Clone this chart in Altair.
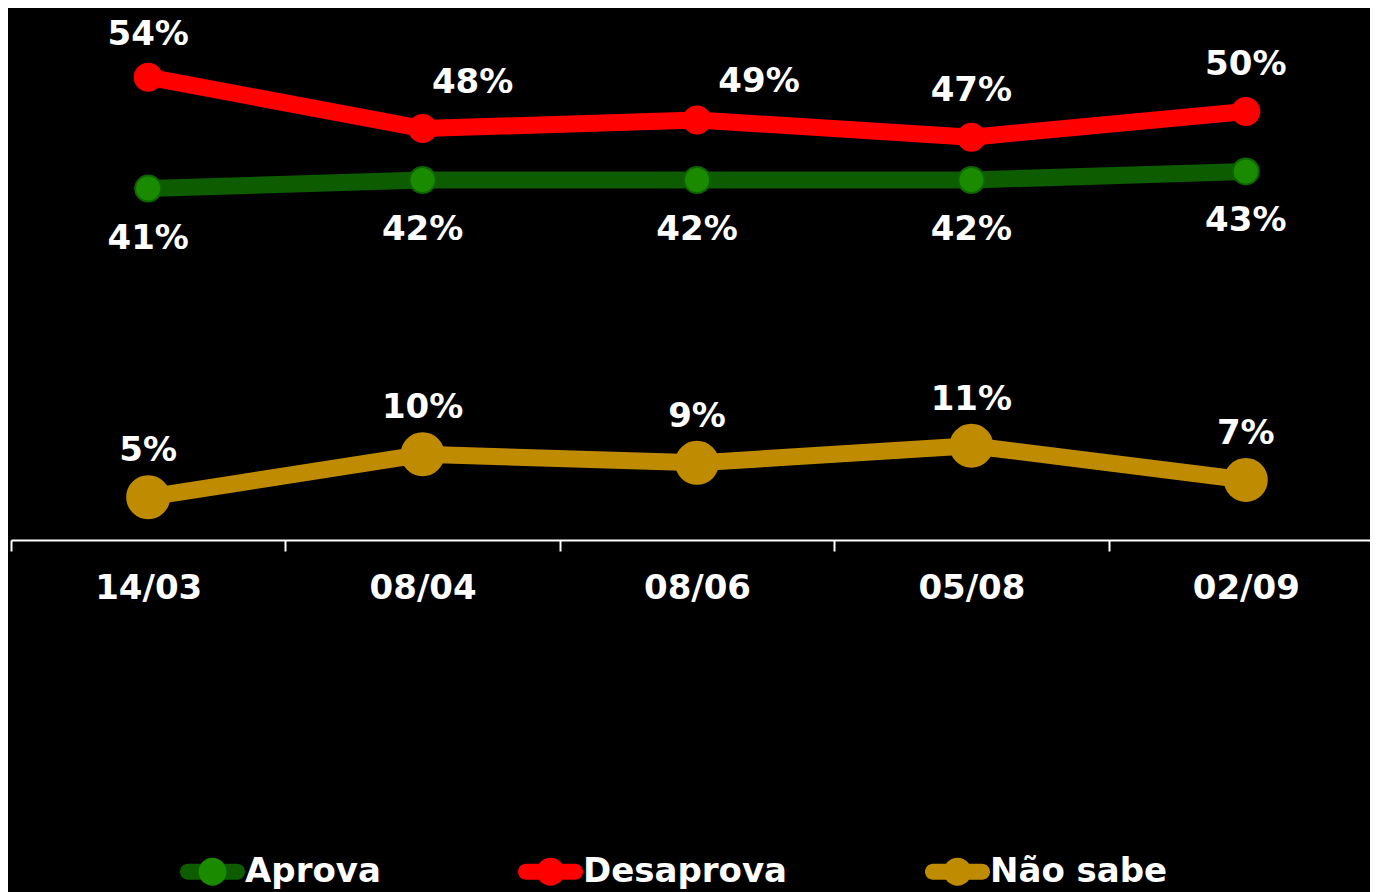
import altair as alt
import pandas as pd

datas = ["14/03", "08/04", "08/06", "05/08", "02/09"]
aprova = [41, 42, 42, 42, 43]
desaprova = [54, 48, 49, 47, 50]
nao_sabe = [5, 10, 9, 11, 7]
series = ["Aprova", "Desaprova", "Não sabe"]
line_colors = ["#0e5c00", "#ff0000", "#bf8b00"]
point_colors = ["#1a8a00", "#ff0000", "#bf8b00"]
point_strokes = ["#0e6400", "#ff0000", "#bf8b00"]
point_sizes = [676, 729, 1764]

rows = []
for s, vals in zip(series, [aprova, desaprova, nao_sabe]):
    for d, v in zip(datas, vals):
        rows.append({"data": d, "serie": s, "valor": v, "rotulo": f"{v}%"})
df = pd.DataFrame(rows)

FONT = "DejaVu Sans"

x = alt.X(
    "data:N",
    sort=datas,
    scale=alt.Scale(type="band", domain=datas, range=[0, 1372], paddingInner=0, paddingOuter=0),
    axis=alt.Axis(
        title=None, labelAngle=0, tickBand="extent", labelFont=FONT, labelFontSize=34,
        labelFontWeight="bold", labelColor="white", labelPadding=20, domainColor="white",
        domainWidth=2, tickColor="white", tickWidth=2, tickSize=11, grid=False,
    ),
)
y = alt.Y("valor:Q", scale=alt.Scale(domain=[0, 62.07], nice=False, zero=True), axis=None)

base = alt.Chart(df).encode(x=x, y=y)

legend_common = dict(
    title=None, orient="none", legendX=169, legendY=831, direction="horizontal",
    symbolSize=4225, symbolStrokeWidth=0, labelFont=FONT, labelFontSize=34,
    labelFontWeight="bold", labelColor="white", labelOffset=0, columnPadding=137,
    padding=0, labelLimit=500,
)

RECT = ("M-0.754,-0.246 L0.754,-0.246 A0.246,0.246 0 0,1 0.754,0.246 "
        "L-0.754,0.246 A0.246,0.246 0 0,1 -0.754,-0.246 Z")
CIRCLE = "M0.43,0 A0.43,0.43 0 1,1 -0.43,0 A0.43,0.43 0 1,1 0.43,0 Z"

# legend-only layers (no marks drawn): line part and dot part of the legend symbols
legend_lines = base.transform_filter("false").transform_calculate(
    serie3="datum.serie"
).mark_point(filled=True, opacity=1).encode(
    fill=alt.Fill(
        "serie3:N",
        scale=alt.Scale(domain=series, range=line_colors),
        legend=alt.Legend(symbolType=RECT, **legend_common),
    )
)
legend_dots = base.transform_filter("false").transform_calculate(
    serie2="datum.serie"
).mark_point(filled=True, opacity=1).encode(
    fill=alt.Fill(
        "serie2:N",
        scale=alt.Scale(domain=series, range=point_colors),
        legend=alt.Legend(symbolType=CIRCLE, labelOpacity=0, **legend_common),
    )
)

lines = base.mark_line(strokeWidth=17, strokeJoin="round", strokeCap="round").encode(
    color=alt.Color("serie:N", scale=alt.Scale(domain=series, range=line_colors), legend=None)
)


def dots(name, fill, stroke, size):
    return base.transform_filter(f"datum.serie == '{name}'").mark_point(
        filled=True, opacity=1, strokeWidth=2, fill=fill, stroke=stroke, size=size
    )


point_layers = [dots(s, f, st, sz) for s, f, st, sz in zip(series, point_colors, point_strokes, point_sizes)]


def labels(filt, dx=0, dy=0):
    return base.transform_filter(filt).mark_text(
        font=FONT, fontSize=34, fontWeight="bold", color="white",
        align="center", baseline="middle", dx=dx, dy=dy,
    ).encode(text="rotulo:N")


t_red54 = labels("datum.serie == 'Desaprova' && datum.data == '14/03'", dy=-42)
t_red = labels("datum.serie == 'Desaprova' && (datum.data == '05/08' || datum.data == '02/09')", dy=-46)
t_red48 = labels("datum.serie == 'Desaprova' && datum.data == '08/04'", dx=50, dy=-46)
t_red49 = labels("datum.serie == 'Desaprova' && datum.data == '08/06'", dx=62, dy=-38)
t_green = labels("datum.serie == 'Aprova'", dy=50)
t_gold = labels("datum.serie == 'Não sabe'", dy=-46)

chart = (
    alt.layer(legend_lines, legend_dots, lines, *point_layers,
              t_red54, t_red, t_red48, t_red49, t_green, t_gold)
    .resolve_scale(color="independent", fill="independent")
    .properties(
        width=1359,
        height=532,
        background="black",
        autosize=alt.AutoSizeParams(type="none"),
        padding={"left": 3, "top": 0, "right": 0, "bottom": 352},
    )
    .configure_view(stroke=None)
)

chart.save("out.html", embed_options={"renderer": "svg", "actions": False})
